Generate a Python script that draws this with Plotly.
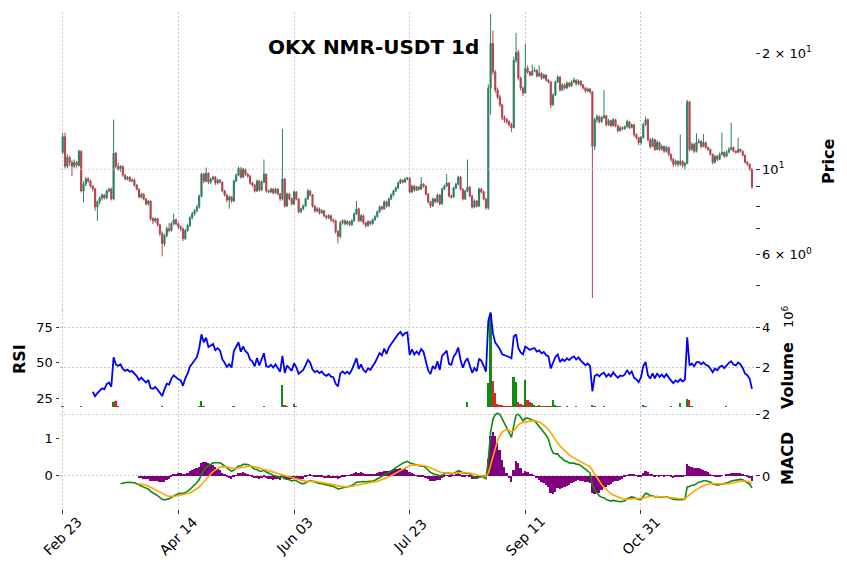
import numpy as np
import pandas as pd
import plotly.graph_objects as go

# ---------------- data ----------------
tick_index = [0, 50, 100, 150, 200, 250]
tick_labels = ["Feb 23", "Apr 14", "Jun 03", "Jul 23", "Sep 11", "Oct 31"]

first_open = 11.06
closes = [
    12.15, 10.18, 10.73, 10.42, 10.18, 10.42, 10.24, 11.13, 8.78, 9.15,
    9.43, 9.32, 9.04, 8.88, 7.98, 8.23, 8.42, 8.57, 8.42, 8.78,
    8.88, 8.37, 11.00, 10.18, 10.00, 10.18, 9.65, 9.43, 9.54, 9.32,
    9.37, 9.10, 8.88, 8.47, 8.62, 8.37, 8.13, 8.27, 7.44, 7.35,
    7.44, 7.18, 6.81, 6.41, 6.73, 7.01, 6.93, 7.22, 7.39, 7.22,
    7.09, 7.01, 6.61, 6.93, 7.14, 7.48, 7.66, 7.80, 7.98, 8.52,
    9.71, 9.32, 9.77, 9.26, 9.43, 9.54, 9.21, 9.37, 9.26, 8.78,
    8.57, 8.32, 8.47, 8.27, 9.32, 9.65, 10.06, 9.54, 10.00, 9.71,
    9.60, 9.21, 9.10, 8.78, 9.32, 8.83, 9.26, 9.71, 8.78, 8.73,
    8.88, 8.68, 8.88, 8.62, 8.37, 9.43, 8.03, 8.62, 8.37, 8.13,
    8.73, 8.37, 7.75, 7.89, 8.03, 8.37, 8.78, 8.57, 8.03, 7.80,
    7.89, 7.71, 7.80, 7.57, 7.48, 7.57, 7.39, 7.35, 6.89, 6.69,
    7.26, 7.35, 7.22, 7.31, 7.18, 7.35, 7.66, 7.89, 7.35, 7.57,
    7.26, 7.14, 7.31, 7.22, 7.39, 7.53, 7.75, 7.98, 7.89, 8.23,
    8.03, 8.37, 8.57, 8.78, 8.94, 9.21, 9.37, 9.26, 9.43, 9.48,
    8.73, 9.04, 8.83, 8.99, 8.88, 9.15, 9.04, 8.62, 8.23, 8.03,
    8.37, 8.23, 8.57, 8.13, 8.88, 9.04, 9.21, 8.52, 8.47, 8.94,
    9.15, 9.54, 8.88, 8.37, 8.78, 8.99, 8.52, 7.98, 8.27, 8.03,
    8.88, 8.73, 8.37, 7.94, 16.25, 21.22, 17.87, 16.06, 15.40, 14.70,
    13.61, 13.45, 13.29, 13.05, 12.82, 19.19, 20.12, 17.25, 16.25, 15.78,
    18.29, 17.87, 17.56, 17.97, 18.08, 17.45, 17.76, 17.25, 17.56, 17.04,
    16.84, 14.70, 15.59, 16.84, 17.35, 16.06, 16.55, 16.25, 16.74, 16.45,
    16.84, 17.04, 16.65, 16.94, 16.55, 16.25, 15.97, 16.16, 15.87, 11.46,
    13.45, 13.69, 13.29, 13.61, 13.77, 13.05, 13.37, 12.97, 13.45, 12.97,
    12.60, 12.82, 12.74, 12.89, 13.29, 12.82, 13.05, 12.30, 12.08, 11.73,
    12.08, 13.05, 13.45, 11.94, 11.46, 11.94, 11.26, 11.73, 11.26, 11.46,
    11.13, 11.39, 10.93, 10.61, 10.30, 10.49, 10.30, 10.49, 10.24, 10.36,
    14.96, 11.26, 11.60, 11.13, 11.73, 11.80, 11.46, 11.73, 11.39, 11.26,
    10.93, 10.42, 10.80, 10.61, 10.93, 11.06, 10.80, 11.06, 11.26, 11.39,
    11.13, 11.06, 11.26, 11.13, 10.87, 10.42, 10.30, 10.00, 8.99,
]
highs = [
    12.40, 12.45, 10.95, 10.85, 10.55, 10.60, 10.50, 11.25, 11.20, 9.30,
    9.55, 9.55, 9.40, 9.10, 8.95, 8.30, 8.50, 8.65, 8.62, 8.85,
    8.95, 8.95, 13.45, 11.10, 10.40, 10.25, 10.22, 9.70, 9.60, 9.58,
    9.45, 9.45, 9.15, 8.92, 8.68, 8.66, 8.42, 8.32, 8.30, 7.52,
    7.50, 7.48, 7.22, 6.90, 6.80, 7.10, 7.25, 7.30, 7.66, 7.45,
    7.28, 7.15, 7.05, 7.00, 7.22, 7.55, 7.75, 7.88, 8.10, 8.60,
    9.80, 9.80, 10.10, 9.82, 9.50, 9.62, 9.60, 9.45, 9.42, 9.30,
    8.85, 8.62, 8.55, 8.52, 9.40, 9.75, 10.15, 10.12, 10.08, 10.05,
    9.78, 9.65, 9.28, 9.15, 9.40, 9.38, 9.35, 10.60, 9.75, 8.85,
    8.95, 8.92, 8.95, 8.92, 8.68, 12.75, 9.50, 8.70, 8.68, 8.45,
    8.82, 8.78, 8.42, 7.95, 8.10, 8.45, 8.90, 8.82, 8.62, 8.08,
    7.98, 7.95, 7.88, 7.85, 7.62, 7.65, 7.62, 7.45, 7.40, 6.95,
    7.35, 7.42, 7.40, 7.38, 7.35, 7.42, 7.72, 8.27, 7.95, 7.65,
    7.62, 7.30, 7.38, 7.36, 7.45, 7.60, 7.82, 8.05, 8.05, 8.30,
    8.28, 8.45, 8.65, 8.86, 9.02, 9.30, 9.45, 9.42, 9.52, 9.55,
    9.52, 9.12, 9.10, 9.06, 9.04, 9.54, 9.20, 9.08, 8.68, 8.28,
    8.45, 8.42, 8.65, 8.62, 8.96, 9.12, 9.71, 9.26, 8.60, 9.02,
    9.22, 9.62, 9.60, 8.92, 8.85, 10.60, 9.05, 8.58, 8.35, 8.32,
    8.96, 8.95, 8.80, 8.42, 16.60, 25.30, 22.90, 18.10, 16.30, 15.60,
    14.80, 13.80, 13.60, 13.40, 13.20, 19.60, 22.60, 20.40, 17.40, 16.40,
    21.20, 18.60, 18.00, 18.70, 18.40, 18.15, 18.60, 17.85, 17.70, 17.65,
    17.15, 16.95, 15.75, 17.00, 17.55, 17.45, 16.70, 16.70, 16.90, 16.85,
    17.00, 17.30, 17.15, 17.10, 17.00, 16.65, 16.35, 16.30, 16.25, 15.95,
    13.60, 13.90, 13.80, 13.75, 16.06, 13.85, 13.50, 13.45, 13.60, 13.52,
    13.05, 12.95, 12.92, 13.00, 13.45, 13.35, 13.15, 13.10, 12.40, 12.15,
    12.20, 13.20, 13.70, 13.55, 12.05, 12.10, 12.00, 11.90, 11.80, 11.60,
    11.52, 11.50, 11.45, 11.00, 10.70, 10.60, 10.55, 12.30, 10.55, 10.45,
    15.14, 15.05, 11.75, 11.70, 12.40, 12.00, 11.90, 12.35, 11.80, 11.45,
    11.32, 11.00, 10.90, 10.88, 11.05, 12.45, 11.12, 11.20, 11.40, 13.21,
    11.45, 11.20, 12.08, 11.32, 11.18, 10.92, 10.50, 10.35, 10.05,
]
lows = [
    10.95, 10.05, 10.05, 10.20, 9.60, 10.05, 10.10, 10.15, 8.70, 8.20,
    9.05, 9.20, 8.95, 8.75, 7.80, 7.35, 8.10, 8.30, 8.35, 8.35,
    8.70, 8.30, 8.30, 10.05, 9.90, 9.85, 9.55, 9.35, 9.35, 9.25,
    9.25, 9.00, 8.80, 8.40, 8.40, 8.30, 8.05, 8.05, 7.35, 7.20,
    7.25, 7.10, 6.70, 5.94, 6.30, 6.65, 6.85, 6.88, 7.15, 7.15,
    7.00, 6.90, 6.50, 6.55, 6.88, 7.08, 7.40, 7.58, 7.72, 7.90,
    8.45, 9.20, 9.25, 9.15, 9.15, 9.35, 9.10, 9.12, 9.18, 8.70,
    8.50, 8.20, 7.90, 8.18, 8.22, 9.25, 9.60, 9.45, 9.48, 9.62,
    9.50, 9.12, 9.00, 8.70, 8.72, 8.75, 8.78, 9.20, 8.70, 8.65,
    8.68, 8.60, 8.62, 8.55, 8.28, 8.30, 7.95, 7.98, 8.30, 8.05,
    8.08, 8.30, 7.68, 7.68, 7.82, 7.98, 8.32, 8.50, 7.95, 7.70,
    7.72, 7.62, 7.65, 7.50, 7.40, 7.42, 7.30, 7.25, 6.80, 6.41,
    6.62, 7.18, 7.15, 7.15, 7.10, 7.12, 7.30, 7.60, 7.28, 7.30,
    7.18, 7.05, 7.08, 7.15, 7.18, 7.35, 7.48, 7.70, 7.82, 7.85,
    7.95, 7.98, 8.32, 8.50, 8.72, 8.88, 9.15, 9.18, 9.20, 9.35,
    8.65, 8.68, 8.75, 8.78, 8.80, 8.82, 8.95, 8.55, 8.15, 7.92,
    7.98, 8.15, 8.18, 8.05, 8.08, 8.82, 8.98, 8.45, 8.38, 8.42,
    8.88, 9.08, 8.80, 8.30, 8.32, 8.72, 8.45, 7.90, 7.92, 7.95,
    7.98, 8.65, 8.30, 7.85, 7.85, 13.85, 17.60, 15.80, 15.20, 14.50,
    13.40, 13.20, 13.10, 12.90, 12.50, 12.75, 18.90, 17.00, 16.00, 15.50,
    15.70, 17.70, 17.40, 17.45, 17.85, 17.30, 17.40, 17.10, 17.15, 16.90,
    16.70, 14.40, 14.60, 15.50, 16.75, 15.90, 15.95, 16.10, 16.15, 16.30,
    16.35, 16.75, 16.50, 16.55, 16.40, 16.10, 15.80, 15.85, 15.70, 4.63,
    11.20, 13.20, 13.15, 13.20, 13.50, 12.90, 12.95, 12.85, 12.90, 12.85,
    12.45, 12.50, 12.62, 12.65, 12.82, 12.70, 12.75, 12.15, 11.95, 11.55,
    11.60, 12.00, 12.95, 11.80, 11.30, 11.40, 11.15, 11.20, 11.15, 11.18,
    11.02, 11.05, 10.80, 10.45, 10.15, 10.20, 10.15, 10.20, 10.10, 9.95,
    10.30, 11.15, 11.15, 11.00, 11.05, 11.65, 11.35, 11.40, 11.30, 11.15,
    10.85, 10.30, 10.35, 10.50, 10.55, 10.85, 10.70, 10.75, 11.00, 11.20,
    11.05, 10.98, 11.00, 11.05, 10.80, 10.35, 10.20, 9.90, 8.90,
]
volumes_m = [
    0.06, 0.03, 0.02, 0.02, 0.03, 0.02, 0.02, 0.04, 0.05, 0.03,
    0.02, 0.02, 0.02, 0.02, 0.04, 0.03, 0.02, 0.02, 0.02, 0.02,
    0.02, 0.03, 0.30, 0.35, 0.05, 0.03, 0.03, 0.02, 0.02, 0.02,
    0.02, 0.02, 0.02, 0.03, 0.02, 0.02, 0.02, 0.02, 0.04, 0.03,
    0.02, 0.02, 0.03, 0.05, 0.03, 0.02, 0.02, 0.02, 0.03, 0.02,
    0.02, 0.02, 0.03, 0.02, 0.02, 0.03, 0.02, 0.02, 0.03, 0.06,
    0.35, 0.05, 0.04, 0.03, 0.02, 0.02, 0.02, 0.02, 0.02, 0.03,
    0.02, 0.02, 0.02, 0.02, 0.05, 0.03, 0.04, 0.03, 0.03, 0.02,
    0.02, 0.02, 0.02, 0.03, 0.03, 0.02, 0.02, 0.05, 0.03, 0.02,
    0.02, 0.02, 0.02, 0.02, 0.02, 1.15, 0.15, 0.05, 0.03, 0.02,
    0.20, 0.08, 0.04, 0.02, 0.02, 0.02, 0.03, 0.02, 0.03, 0.02,
    0.02, 0.02, 0.02, 0.02, 0.02, 0.02, 0.02, 0.02, 0.03, 0.04,
    0.03, 0.02, 0.02, 0.02, 0.02, 0.02, 0.02, 0.04, 0.03, 0.02,
    0.02, 0.02, 0.02, 0.02, 0.02, 0.02, 0.02, 0.02, 0.02, 0.02,
    0.02, 0.02, 0.02, 0.02, 0.02, 0.03, 0.02, 0.02, 0.02, 0.02,
    0.04, 0.02, 0.02, 0.02, 0.02, 0.03, 0.02, 0.02, 0.03, 0.02,
    0.02, 0.02, 0.02, 0.02, 0.03, 0.02, 0.04, 0.03, 0.02, 0.02,
    0.02, 0.03, 0.03, 0.02, 0.02, 0.30, 0.04, 0.03, 0.02, 0.02,
    0.04, 0.02, 0.02, 0.03, 1.25, 4.70, 1.35, 0.75, 0.20, 0.15,
    0.12, 0.08, 0.06, 0.08, 0.10, 1.55, 1.30, 0.30, 0.18, 0.12,
    1.40, 0.40, 0.30, 0.22, 0.15, 0.08, 0.15, 0.06, 0.08, 0.05,
    0.10, 0.06, 0.40, 0.12, 0.08, 0.05, 0.04, 0.04, 0.10, 0.03,
    0.03, 0.04, 0.08, 0.03, 0.03, 0.03, 0.03, 0.03, 0.03, 0.15,
    0.06, 0.03, 0.03, 0.02, 0.08, 0.03, 0.02, 0.02, 0.02, 0.02,
    0.02, 0.02, 0.02, 0.02, 0.02, 0.02, 0.02, 0.02, 0.02, 0.02,
    0.02, 0.15, 0.05, 0.04, 0.02, 0.02, 0.02, 0.02, 0.02, 0.02,
    0.02, 0.02, 0.02, 0.06, 0.02, 0.02, 0.02, 0.25, 0.03, 0.02,
    0.45, 0.40, 0.08, 0.03, 0.04, 0.02, 0.02, 0.03, 0.02, 0.02,
    0.02, 0.03, 0.02, 0.02, 0.02, 0.03, 0.02, 0.05, 0.02, 0.03,
    0.02, 0.02, 0.03, 0.02, 0.02, 0.03, 0.02, 0.02, 0.04,
]

# ---------------- derived series ----------------
n = len(closes)
x = np.arange(n)
close = pd.Series(closes, dtype=float)
opens = [first_open] + closes[:-1]
hi = np.maximum(np.array(highs), np.maximum(opens, closes))
lo = np.minimum(np.array(lows), np.minimum(opens, closes))
volume = np.array(volumes_m) * 1e6

# RSI 14 (Wilder: simple-mean seed, then Wilder smoothing)
period = 14
delta = close.diff().fillna(0.0).to_numpy()
up = np.clip(delta, 0, None)
dn = np.clip(-delta, 0, None)
avg_up = np.full(n, np.nan)
avg_dn = np.full(n, np.nan)
avg_up[period - 1] = up[:period].mean()
avg_dn[period - 1] = dn[:period].mean()
for t in range(period, n):
    avg_up[t] = (avg_up[t - 1] * (period - 1) + up[t]) / period
    avg_dn[t] = (avg_dn[t - 1] * (period - 1) + dn[t]) / period
rsi = 100 - 100 / (1 + avg_up / avg_dn)

# MACD (12, 26, 9)
ema12 = close.ewm(span=12, adjust=False, min_periods=12).mean()
ema26 = close.ewm(span=26, adjust=False, min_periods=26).mean()
macd = ema12 - ema26
signal = macd.ewm(span=9, adjust=False, min_periods=9).mean()
hist = macd - signal

vol_colors = ["#138a13" if c >= o else "#d42a2a" for o, c in zip(opens, closes)]

# ---------------- layout helpers ----------------
W, H = 847, 570
ML, MR, MT, MB = 60, 92, 12, 61
PH = H - MT - MB
PW = W - ML - MR


def yp(px):
    return (H - MB - px) / PH


def xp(px):
    return (px - ML) / PW


XR = [-1.17, 299.3]
FONT = "DejaVu Sans"
GRID = dict(showgrid=True, gridcolor="#c6c6c6", griddash="2px,2px", gridwidth=0.8)
TICK = dict(ticks="outside", ticklen=3.5, tickwidth=1, tickcolor="#333333",
            tickfont=dict(family=FONT, size=13, color="black"))

fig = go.Figure()

# horizontal gridline at 10 in the price panel
fig.add_trace(go.Scatter(x=XR, y=[10, 10], mode="lines", xaxis="x", yaxis="y",
                         line=dict(color="#c6c6c6", width=0.8, dash="2px,2px"),
                         hoverinfo="skip", showlegend=False))

fig.add_trace(go.Candlestick(
    x=x, open=opens, high=hi, low=lo, close=closes, xaxis="x", yaxis="y",
    increasing=dict(line=dict(color="#2d7f5e", width=1), fillcolor="#2d7f5e"),
    decreasing=dict(line=dict(color="#b3434d", width=1), fillcolor="#b3434d"),
    whiskerwidth=0, showlegend=False))

fig.add_trace(go.Bar(x=x, y=volume, marker=dict(color=vol_colors, line=dict(width=0)),
                     width=0.8, xaxis="x2", yaxis="y2", showlegend=False))
fig.add_trace(go.Scatter(x=x, y=rsi, mode="lines", line=dict(color="#0000ff", width=1.8),
                         xaxis="x2", yaxis="y3", showlegend=False))

fig.add_trace(go.Bar(x=x, y=hist, marker=dict(color="#800080", line=dict(width=0)),
                     width=0.8, xaxis="x3", yaxis="y5", showlegend=False))
fig.add_trace(go.Scatter(x=x, y=macd, mode="lines", line=dict(color="#118811", width=1.6),
                         xaxis="x3", yaxis="y4", showlegend=False))
fig.add_trace(go.Scatter(x=x, y=signal, mode="lines", line=dict(color="#ffa500", width=1.6),
                         xaxis="x3", yaxis="y4", showlegend=False))

xcommon = dict(range=XR, tickmode="array", tickvals=tick_index, showticklabels=False,
               zeroline=False, showline=False, **GRID)

d_price = [yp(310), 1]
d_mid = [yp(407), yp(310)]
d_macd = [0, yp(407)]


def label(text, px, py, size=16, angle=-90):
    return dict(text=text, x=xp(px), y=yp(py), xref="paper", yref="paper",
                textangle=angle, showarrow=False, xanchor="center", yanchor="middle",
                font=dict(family=FONT, size=size, color="black"))


annotations = [
    label("<b>OKX NMR-USDT 1d</b>", 373, 47, size=20, angle=0),
    label("<b>Price</b>", 829, 161),
    label("<b>RSI</b>", 19, 359),
    label("<b>Volume</b>", 787, 376),
    label("10<sup>6</sup>", 788, 317, size=13),
    label("<b>MACD</b>", 787, 459),
]
for ti, tl in zip(tick_index, tick_labels):
    annotations.append(dict(text=tl, x=ti, y=yp(536), xref="x3", yref="paper", textangle=-45,
                            showarrow=False, xanchor="center", yanchor="middle",
                            font=dict(family=FONT, size=14, color="black")))

fig.update_layout(
    width=W, height=H,
    margin=dict(l=ML, r=MR, t=MT, b=MB, pad=0),
    paper_bgcolor="white", plot_bgcolor="white",
    showlegend=False, bargap=0,
    font=dict(family=FONT, size=13, color="black"),
    xaxis=dict(domain=[0, 1], anchor="y", rangeslider=dict(visible=False), ticks="", **xcommon),
    xaxis2=dict(domain=[0, 1], anchor="y2", matches="x", ticks="", **xcommon),
    xaxis3=dict(domain=[0, 1], anchor="y5", matches="x", ticks="outside", ticklen=4,
                tickcolor="#333333", **xcommon),
    yaxis=dict(domain=d_price, anchor="x", type="log", side="right",
               range=[np.log10(4.31), np.log10(25.6)],
               tickmode="array", tickvals=[5, 6, 7, 8, 9, 10, 20],
               ticktext=["", "6 × 10<sup>0</sup>", "", "", "", "10<sup>1</sup>", "2 × 10<sup>1</sup>"],
               showgrid=False, zeroline=False, showline=False, **TICK),
    yaxis2=dict(domain=d_mid, anchor="x2", side="right", range=[0.04e6, 4.89e6],
                tickmode="array", tickvals=[2e6, 4e6], ticktext=["2", "4"],
                zeroline=False, showline=False, **GRID, **TICK),
    yaxis3=dict(overlaying="y2", anchor="x2", side="left", range=[18.66, 87],
                tickmode="array", tickvals=[25, 50, 75],
                showgrid=False, zeroline=False, showline=False, **TICK),
    yaxis5=dict(domain=d_macd, anchor="x3", side="left", range=[-0.905, 1.851],
                tickmode="array", tickvals=[0, 1],
                showgrid=False, zeroline=False, showline=False, **TICK),
    yaxis4=dict(overlaying="y5", anchor="x3", side="right", range=[-1.065, 2.226],
                tickmode="array", tickvals=[0, 2],
                zeroline=False, showline=False, **GRID, **TICK),
    annotations=annotations,
)

fig.write_html("out.html")
